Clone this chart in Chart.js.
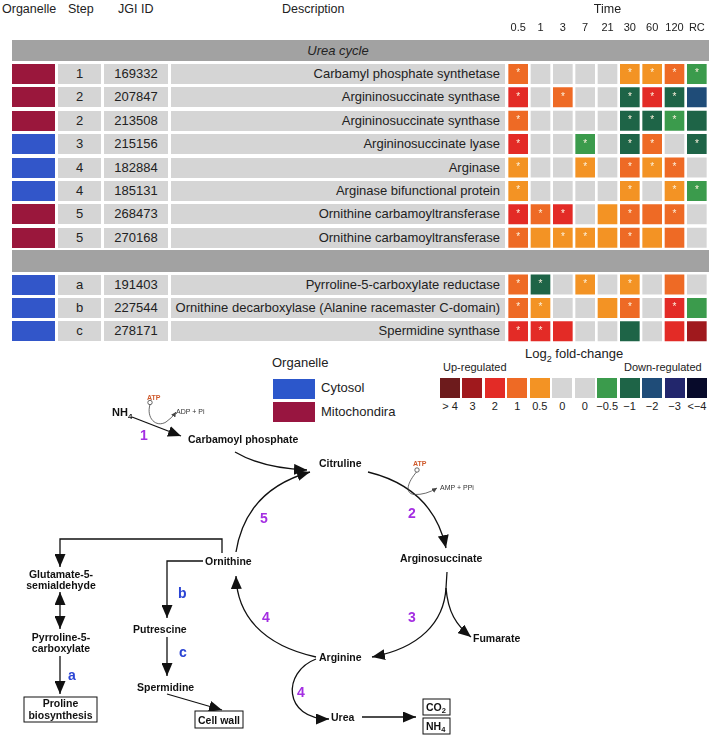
<!DOCTYPE html>
<html>
<head>
<meta charset="utf-8">
<script src="https://cdn.jsdelivr.net/npm/chart.js@4.4.1/dist/chart.umd.min.js"></script>
<style>
  body { margin: 0; background: #fff; }
  #page { position: relative; width: 709px; height: 736px; overflow: hidden;
          font-family: "Liberation Sans", Arial, Helvetica, sans-serif; color: #222; }
  .abs { position: absolute; white-space: nowrap; }
  .cell { position: absolute; height: 20px; line-height: 20px; font-size: 13px; text-align: center; background: #d5d5d5; white-space: nowrap; }
  .hdr { position: absolute; top: 2px; font-size: 12.5px; }
  #heat { position: absolute; left: 0; top: 0; z-index: 2; }
  #diagram { position: absolute; left: 0; top: 0; z-index: 3; }
  #diagram text { font-family: "Liberation Sans", Arial, Helvetica, sans-serif; }
  .lbl { font-size: 10.5px; font-weight: bold; fill: #111; }
  .num { font-size: 14px; font-weight: bold; fill: #a42ee2; }
  .let { font-size: 14px; font-weight: bold; fill: #2a44d4; }
  .small { font-size: 7px; fill: #333; }
  .atp { font-size: 7px; font-weight: bold; fill: #cf5a2c; }
  .ln { fill: none; stroke: #111; stroke-width: 1.3; }
  .thin { fill: none; stroke: #444; stroke-width: 0.8; }
</style>
</head>
<body>
<div id="page">
  <div class="hdr" style="left:2px;">Organelle</div>
  <div class="hdr" style="left:68px;">Step</div>
  <div class="hdr" style="left:118px;">JGI ID</div>
  <div class="hdr" style="left:282px;">Description</div>
  <div id="table"></div>
  <canvas id="heat" width="709" height="350"></canvas>

  <div class="abs" style="left:272px; top:355px; font-size:13px;">Organelle</div>
  <div class="abs" style="left:273px; top:379px; width:42px; height:20px; background:#2c57cb;"></div>
  <div class="abs" style="left:273px; top:402px; width:42px; height:20px; background:#981540;"></div>
  <div class="abs" style="left:321px; top:380px; font-size:13px;">Cytosol</div>
  <div class="abs" style="left:321px; top:404px; font-size:13px;">Mitochondira</div>

  <div class="abs" style="left:525px; top:346px; font-size:13px;">Log<sub style="font-size:9px;">2</sub> fold-change</div>
  <div class="abs" style="left:443px; top:361px; font-size:11px;">Up-regulated</div>
  <div class="abs" style="left:624px; top:361px; font-size:11px;">Down-regulated</div>
  <div id="scale"></div>

  <svg id="diagram" width="709" height="736" viewBox="0 0 709 736">
    <defs>
      <marker id="ah" markerUnits="userSpaceOnUse" markerWidth="14" markerHeight="11" refX="13" refY="5.5" orient="auto-start-reverse">
        <path d="M0,0 L13,5.5 L0,11 Z" fill="#111"/>
      </marker>
      <marker id="sh" markerUnits="userSpaceOnUse" markerWidth="6" markerHeight="5" refX="5" refY="2.5" orient="auto">
        <path d="M0,0 L5,2.5 L0,5 Z" fill="#444"/>
      </marker>
    </defs>

    <!-- step 1 -->
    <text class="lbl" x="112" y="416" style="font-size:11px;">NH<tspan dy="3" style="font-size:8px;">4</tspan></text>
    <text class="atp" x="147" y="399.5">ATP</text>
    <text class="small" x="176" y="413.5">ADP + Pi</text>
    <circle cx="150" cy="402.5" r="2.2" fill="#fff" stroke="#444" stroke-width="0.8"/>
    <path class="thin" d="M150,404.5 C146,418 156,428 166,422 Q172,418 176,412" marker-end="url(#sh)"/>
    <path class="ln" d="M132,417 L181,436" marker-end="url(#ah)"/>
    <text class="num" x="140" y="440">1</text>
    <text class="lbl" x="188" y="443">Carbamoyl phosphate</text>
    <path class="ln" d="M235,452 Q262,468 307,470" marker-end="url(#ah)"/>

    <!-- urea cycle -->
    <text class="lbl" x="319" y="467">Citruline</text>
    <path class="ln" d="M236,552 Q246,490 310,472" marker-end="url(#ah)"/>
    <text class="num" x="260" y="523">5</text>
    <path class="ln" d="M368,472 Q433,488 446,548" marker-end="url(#ah)"/>
    <text class="atp" x="413" y="465.5">ATP</text>
    <circle cx="417" cy="470" r="2.2" fill="#fff" stroke="#444" stroke-width="0.8"/>
    <path class="thin" d="M416.5,472 C408,482 404,493 414,494.5 Q426,495 437,488" marker-end="url(#sh)"/>
    <text class="small" x="440" y="489.5">AMP + PPi</text>
    <text class="num" x="408" y="518">2</text>
    <text class="lbl" x="400" y="562">Arginosuccinate</text>
    <path class="ln" d="M447,572 L446,588"/>
    <path class="ln" d="M446,588 C444,622 420,648 372,657" marker-end="url(#ah)"/>
    <path class="ln" d="M446,588 C448,612 456,625 471,637" marker-end="url(#ah)"/>
    <text class="num" x="408" y="622">3</text>
    <text class="lbl" x="473" y="642">Fumarate</text>
    <text class="lbl" x="319" y="661">Arginine</text>
    <path class="ln" d="M316,657 C262,645 237,615 236,576" marker-end="url(#ah)"/>
    <text class="num" x="262" y="622">4</text>
    <path class="ln" d="M316,659 C282,672 283,719 329,719" marker-end="url(#ah)"/>
    <text class="num" x="297" y="697">4</text>
    <text class="lbl" x="331" y="721">Urea</text>
    <path class="ln" d="M362,717 L416,717" marker-end="url(#ah)"/>
    <rect x="423" y="699" width="27" height="16" fill="#fff" stroke="#111" stroke-width="1"/>
    <text class="lbl" x="426" y="711">CO<tspan dy="2" style="font-size:7.5px;">2</tspan></text>
    <rect x="423" y="718" width="27" height="16" fill="#fff" stroke="#111" stroke-width="1"/>
    <text class="lbl" x="426" y="730">NH<tspan dy="2" style="font-size:7.5px;">4</tspan></text>

    <!-- ornithine branches -->
    <text class="lbl" x="205" y="565">Ornithine</text>
    <path class="ln" d="M222,553 L222,539 L60,539 L60,567" marker-end="url(#ah)"/>
    <text class="lbl" x="61" y="578" text-anchor="middle">Glutamate-5-</text>
    <text class="lbl" x="61" y="589" text-anchor="middle">semialdehyde</text>
    <path class="ln" d="M60,592 L60,629" marker-start="url(#ah)" marker-end="url(#ah)"/>
    <text class="lbl" x="61" y="641" text-anchor="middle">Pyrroline-5-</text>
    <text class="lbl" x="61" y="652" text-anchor="middle">carboxylate</text>
    <path class="ln" d="M60,656 L60,694" marker-end="url(#ah)"/>
    <text class="let" x="68" y="680">a</text>
    <rect x="24" y="697" width="73" height="25" fill="#fff" stroke="#111" stroke-width="1"/>
    <text class="lbl" x="60.5" y="707" text-anchor="middle">Proline</text>
    <text class="lbl" x="60.5" y="718.5" text-anchor="middle">biosynthesis</text>

    <path class="ln" d="M203,561 L167,561 L167,618" marker-end="url(#ah)"/>
    <text class="let" x="178" y="598">b</text>
    <text class="lbl" x="133" y="633">Putrescine</text>
    <path class="ln" d="M167,637 L167,676" marker-end="url(#ah)"/>
    <text class="let" x="179" y="657">c</text>
    <text class="lbl" x="137" y="691">Spermidine</text>
    <path class="ln" d="M167,694 L222,710" marker-end="url(#ah)"/>
    <rect x="195" y="711" width="48" height="17" fill="#fff" stroke="#111" stroke-width="1"/>
    <text class="lbl" x="219" y="723.5" text-anchor="middle">Cell wall</text>
  </svg>
</div>

<script>
// columns of the heatmap
var timeLabels = ['0.5', '1', '3', '7', '21', '30', '60', '120', 'RC'];

// table rows
var groupNames = ['Urea cycle', ''];
var organelle = ['mito', 'mito', 'mito', 'cyto', 'cyto', 'cyto', 'mito', 'mito', 'cyto', 'cyto', 'cyto'];
var steps = ['1', '2', '2', '3', '4', '4', '5', '5', 'a', 'b', 'c'];
var jgiIds = ['169332', '207847', '213508', '215156', '182884', '185131', '268473', '270168', '191403', '227544', '278171'];
var descriptions = [
  'Carbamyl phosphate synthetase',
  'Argininosuccinate synthase',
  'Argininosuccinate synthase',
  'Argininosuccinate lyase',
  'Arginase',
  'Arginase bifunctional protein',
  'Ornithine carbamoyltransferase',
  'Ornithine carbamoyltransferase',
  'Pyrroline-5-carboxylate reductase',
  'Ornithine decarboxylase (Alanine racemaster C-domain)',
  'Spermidine synthase'
];

// log2 fold-change class per gene and time point
var foldChange = [
  [1, 0, 0, 0, 0, 0.5, 0.5, 1, -0.5],
  [2, 0, 1, 0, 0, -1, 2, -1, -2],
  [1, 0, 0, 0, 0, -1, -1, -0.5, -1],
  [2, 0, 0, -0.5, 0, -1, 1, 0, -1],
  [0.5, 0, 0, 0.5, 0, 1, 0.5, 1, 0],
  [0.5, 0, 0, 0, 0, 0.5, 0, 0.5, -0.5],
  [2, 1, 2, 0, 0.5, 1, 1, 1, 0],
  [1, 0.5, 0.5, 0.5, 0.5, 1, 0.5, 1, 0],
  [1, -1, 0, 0.5, 0, 0.5, 0, 1, 0],
  [1, 0.5, 0, 0, 0.5, 1, 0, 2, -0.5],
  [2, 2, 2, 0, 0, -1, 0, 2, 3]
];
// 1 = marked with an asterisk
var significant = [
  [1, 0, 0, 0, 0, 1, 1, 1, 1],
  [1, 0, 1, 0, 0, 1, 1, 1, 0],
  [1, 0, 0, 0, 0, 1, 1, 1, 0],
  [1, 0, 0, 1, 0, 1, 1, 0, 1],
  [1, 0, 0, 1, 0, 1, 1, 1, 0],
  [1, 0, 0, 0, 0, 1, 0, 1, 1],
  [1, 1, 1, 0, 0, 1, 0, 1, 0],
  [1, 0, 1, 1, 0, 1, 0, 0, 0],
  [1, 1, 0, 1, 0, 1, 0, 0, 0],
  [1, 1, 0, 0, 0, 1, 0, 1, 0],
  [1, 1, 0, 0, 0, 0, 0, 0, 0]
];

// colour key
var legendValues = [5, 3, 2, 1, 0.5, 0, 0, -0.5, -1, -2, -3, -5];
var legendLabels = ['> 4', '3', '2', '1', '0.5', '0', '0', '\u22120.5', '\u22121', '\u22122', '\u22123', '<\u22124'];

var organelleColors = { cyto: '#3256c9', mito: '#9a173c' };

function fcColor(v) {
  if (v >= 4) return '#6d1b1c';
  if (v >= 3) return '#a0191d';
  if (v >= 2) return '#e32b26';
  if (v >= 1) return '#ee6a25';
  if (v > 0) return '#f39324';
  if (v === 0) return '#d5d5d5';
  if (v > -1) return '#3b9b4c';
  if (v > -2) return '#1e6447';
  if (v > -3) return '#1f4c78';
  if (v > -4) return '#22266c';
  return '#070a2a';
}

// row order: group band, 8 urea cycle genes, group band, 3 others
var rowKeys = [];
var rowGene = [];
rowKeys.push(groupNames[0]); rowGene.push(-1);
for (var i = 0; i < 8; i++) { rowKeys.push(jgiIds[i]); rowGene.push(i); }
rowKeys.push(groupNames[1]); rowGene.push(-1);
for (var i = 8; i < jgiIds.length; i++) { rowKeys.push(jgiIds[i]); rowGene.push(i); }

var datasets = timeLabels.map(function (t, ti) {
  return {
    label: t,
    data: rowGene.map(function (g) { return g < 0 ? null : [ti - 0.44, ti + 0.44]; }),
    backgroundColor: rowGene.map(function (g) { return g < 0 ? 'rgba(0,0,0,0)' : fcColor(foldChange[g][ti]); }),
    grouped: false,
    barPercentage: 0.855,
    categoryPercentage: 1,
    borderWidth: 0
  };
});

var starPlugin = {
  id: 'stars',
  afterDatasetsDraw: function (chart) {
    var c = chart.ctx;
    c.save();
    c.fillStyle = '#fcf1dc';
    c.font = '10px "Liberation Sans", Arial, sans-serif';
    c.textAlign = 'center';
    c.textBaseline = 'alphabetic';
    chart.data.datasets.forEach(function (ds, ti) {
      chart.getDatasetMeta(ti).data.forEach(function (bar, r) {
        var g = rowGene[r];
        if (g < 0 || !significant[g][ti]) return;
        var p = bar.getCenterPoint();
        c.fillText('*', p.x, p.y + 2.5);
      });
    });
    c.restore();
  }
};

Chart.defaults.font.family = '"Liberation Sans", Arial, Helvetica, sans-serif';
Chart.defaults.color = '#222';

var ctx = document.getElementById('heat').getContext('2d');
var heat = new Chart(ctx, {
  type: 'bar',
  data: { labels: rowKeys, datasets: datasets },
  options: {
    indexAxis: 'y',
    responsive: false,
    animation: false,
    layout: { padding: { left: 507, right: 1, top: 1.6, bottom: 7 } },
    plugins: { legend: { display: false }, tooltip: { enabled: false } },
    scales: {
      y: { display: false },
      x: {
        type: 'linear',
        position: 'top',
        min: -0.5,
        max: 8.5,
        grid: { display: false, drawTicks: false },
        border: { display: false },
        afterBuildTicks: function (scale) {
          scale.ticks = timeLabels.map(function (l, i) { return { value: i }; });
        },
        afterFit: function (scale) { scale.height = 37.2; },
        ticks: {
          autoSkip: false,
          maxRotation: 0,
          padding: 4,
          font: { size: 11 },
          color: '#222',
          callback: function (v, i) { return timeLabels[i]; }
        },
        title: { display: true, text: 'Time', font: { size: 12.5 }, color: '#222', padding: { top: 0, bottom: 1 } }
      }
    }
  },
  plugins: [starPlugin]
});

// table cells, placed on the chart's own row scale
var yScale = heat.scales.y;
var table = document.getElementById('table');
function addCell(left, width, top, height, bg, text, extra) {
  var d = document.createElement('div');
  d.className = 'cell';
  d.style.left = left + 'px';
  d.style.width = width + 'px';
  d.style.top = top + 'px';
  d.style.height = height + 'px';
  d.style.lineHeight = height + 'px';
  d.style.background = bg;
  d.textContent = text || '';
  if (extra) Object.assign(d.style, extra);
  table.appendChild(d);
}
rowKeys.forEach(function (k, r) {
  var cy = yScale.getPixelForValue(r);
  var g = rowGene[r];
  if (g < 0) {
    addCell(12, 697, cy - 10.8, 21.6, '#a2a2a2', '', {});
    if (k) addCell(171, 334, cy - 10.8, 21.6, 'transparent', k, { fontStyle: 'italic' });
    return;
  }
  var top = cy - 10;
  addCell(12, 43, top, 20, organelleColors[organelle[g]], '');
  addCell(58, 43, top, 20, '#d5d5d5', steps[g]);
  addCell(104, 64, top, 20, '#d5d5d5', jgiIds[g]);
  addCell(171, 334, top, 20, '#d5d5d5', descriptions[g], { textAlign: 'right', paddingRight: '5px', boxSizing: 'border-box' });
});

// colour key
var scale = document.getElementById('scale');
legendValues.forEach(function (v, i) {
  var x = 440 + i * 22.45;
  var b = document.createElement('div');
  b.className = 'abs';
  b.style.cssText += 'left:' + x + 'px;top:378px;width:20px;height:20px;background:' + fcColor(v) + ';';
  scale.appendChild(b);
  var t = document.createElement('div');
  t.className = 'abs';
  t.style.cssText += 'left:' + (x - 10) + 'px;top:400px;width:40px;text-align:center;font-size:11px;';
  t.textContent = legendLabels[i];
  scale.appendChild(t);
});
</script>
</body>
</html>
